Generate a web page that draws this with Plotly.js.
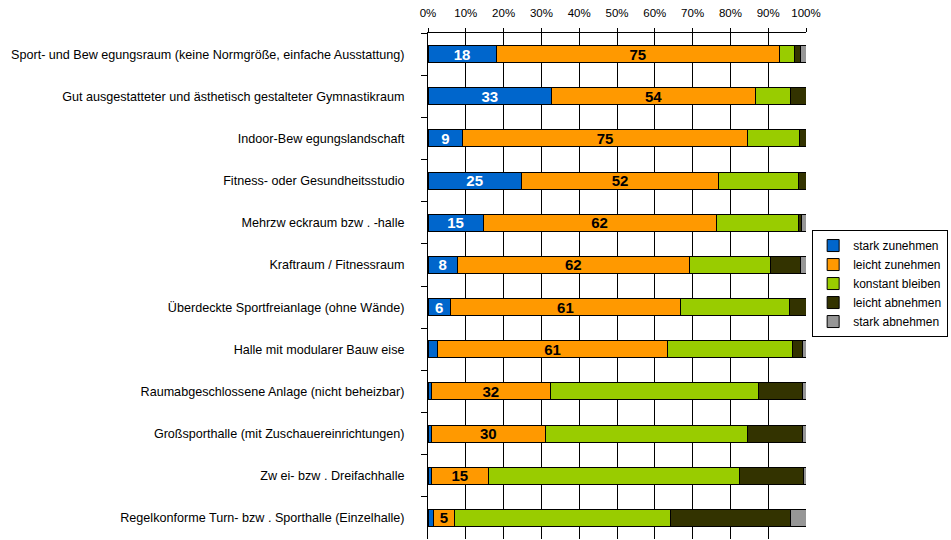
<!DOCTYPE html>
<html>
<head>
<meta charset="utf-8">
<script src="https://cdn.plot.ly/plotly-3.0.1.min.js"></script>
<style>html,body{margin:0;padding:0;background:#fff;}#chart{width:951px;height:540px;}</style>
</head>
<body>
<div id="chart"></div>
<script>
var categories = [
  "Sport- und Bew egungsraum (keine Normgröße, einfache Ausstattung)",
  "Gut ausgestatteter und ästhetisch gestalteter Gymnastikraum",
  "Indoor-Bew egungslandschaft",
  "Fitness- oder Gesundheitsstudio",
  "Mehrzw eckraum bzw . -halle",
  "Kraftraum / Fitnessraum",
  "Überdeckte Sportfreianlage (ohne Wände)",
  "Halle mit modularer Bauw eise",
  "Raumabgeschlossene Anlage (nicht beheizbar)",
  "Großsporthalle (mit Zuschauereinrichtungen)",
  "Zw ei- bzw . Dreifachhalle",
  "Regelkonforme Turn- bzw . Sporthalle (Einzelhalle)"
];
var starkZunehmen   = [18, 32.7, 9.2, 24.7, 14.6, 7.7, 5.9, 2.5, 0.8, 0.8, 0.8, 1.5];
var leichtZunehmen  = [75, 54.0, 75.3, 52.2, 61.6, 61.5, 60.9, 60.9, 31.6, 30.3, 15.2, 5.4];
var konstantBleiben = [4.0, 9.2, 13.9, 21.0, 21.8, 21.5, 28.9, 33.1, 55.0, 53.5, 66.5, 57.3];
var leichtAbnehmen  = [1.6, 4.1, 1.6, 2.1, 0.8, 7.8, 4.3, 2.6, 11.7, 14.5, 16.8, 31.8];
var starkAbnehmen   = [1.4, 0, 0, 0, 1.2, 1.5, 0, 0.9, 0.9, 0.9, 0.7, 4.0];
var blueLabels   = ["18","33","9","25","15","8","6","","","","",""];
var orangeLabels = ["75","54","75","52","62","62","61","61","32","30","15","5"];
var xTickVals = [0,10,20,30,40,50,60,70,80,90,100];
var xTickText = ["0%","10%","20%","30%","40%","50%","60%","70%","80%","90%","100%"];

function series(name, vals, color, labels, textColor) {
  var t = {
    type: 'bar', orientation: 'h', name: name,
    x: vals, y: categories,
    marker: {color: color, line: {color: '#000', width: 1}},
    hoverinfo: 'x+name'
  };
  if (labels) {
    t.text = labels;
    t.textposition = 'inside';
    t.insidetextanchor = 'middle';
    t.textangle = 0;
    t.constraintext = 'none';
    t.textfont = {family: 'Liberation Sans, Arial, sans-serif', size: 15, color: textColor, weight: 'bold'};
  } else {
    t.textposition = 'none';
  }
  return t;
}

var data = [
  series('stark zunehmen', starkZunehmen, '#0066CC', blueLabels, '#ffffff'),
  series('leicht zunehmen', leichtZunehmen, '#FF9900', orangeLabels, '#000000'),
  series('konstant bleiben', konstantBleiben, '#99CC00'),
  series('leicht abnehmen', leichtAbnehmen, '#333300'),
  series('stark abnehmen', starkAbnehmen, '#969696')
];

var layout = {
  width: 951, height: 540,
  margin: {l: 428, r: 145, t: 33, b: 1, pad: 0},
  barmode: 'stack',
  bargap: 0.6,
  paper_bgcolor: '#fff', plot_bgcolor: '#fff',
  font: {family: 'Liberation Sans, Arial, sans-serif', size: 12, color: '#000'},
  showlegend: true,
  legend: {
    xref: 'container', yref: 'container',
    x: 0.997, y: 0.574, xanchor: 'right', yanchor: 'top',
    bordercolor: '#000', borderwidth: 1, bgcolor: '#fff',
    font: {size: 12, color: '#000'},
    traceorder: 'normal', itemwidth: 30
  },
  xaxis: {
    side: 'top', range: [0, 100],
    tickvals: xTickVals, ticktext: xTickText,
    showgrid: true, gridcolor: '#000', gridwidth: 1,
    showline: true, linecolor: '#000', linewidth: 1,
    ticks: 'outside', ticklen: 4, tickcolor: '#000',
    ticklabelstandoff: 6,
    tickfont: {size: 11.5}, zeroline: false, fixedrange: true
  },
  yaxis: {
    type: 'category', autorange: 'reversed',
    showline: true, linecolor: '#000', linewidth: 1,
    ticks: 'outside', tickson: 'boundaries', ticklen: 6, tickcolor: '#000',
    ticklabelstandoff: 20,
    showgrid: false, tickfont: {size: 12.6}, fixedrange: true
  }
};

Plotly.newPlot('chart', data, layout, {displayModeBar: false, staticPlot: true});
</script>
</body>
</html>
